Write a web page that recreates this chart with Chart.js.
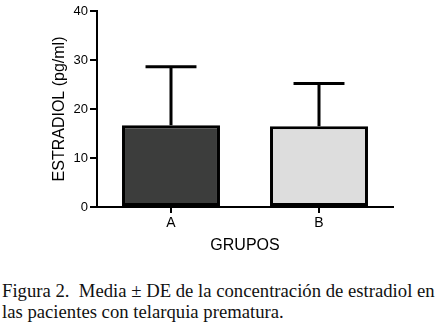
<!DOCTYPE html>
<html>
<head>
<meta charset="utf-8">
<script src="https://cdn.jsdelivr.net/npm/chart.js@4.4.1/dist/chart.umd.min.js"></script>
<style>
  body { margin: 0; background: #fff; }
  #wrap { position: relative; width: 439px; height: 265px; }
  #caption {
    position: absolute; left: 2px; top: 281px; width: 437px;
    font-family: 'Times New Roman', 'Liberation Serif', serif;
    font-size: 18.7px; line-height: 20.5px; color: #111;
    white-space: nowrap;
  }
</style>
</head>
<body>
<div id="wrap"><canvas id="chart"></canvas></div>
<div id="caption">Figura 2.&nbsp; Media ± DE de la concentración de estradiol en<br>las pacientes con telarquia prematura.</div>
<script>
const groups = ['A', 'B'];
const means = [16.7, 16.5];
const sds = [11.9, 8.7];
const barColors = ['#3c3d3c', '#dddddd'];
const yMin = 0;
const yMax = 40;
const yStep = 10;

const font = "Arial, 'Liberation Sans', sans-serif";

// draw the upper half of the error bar (mean + SD)
const errorBars = {
    id: 'errorBars',
    afterDatasetsDraw(chart) {
        const ctx = chart.ctx;
        const yScale = chart.scales.y;
        const meta = chart.getDatasetMeta(0);
        ctx.save();
        ctx.strokeStyle = '#000';
        ctx.lineWidth = 3;
        meta.data.forEach((bar, i) => {
            const top = yScale.getPixelForValue(means[i] + sds[i]);
            const half = bar.width * 0.26;
            ctx.beginPath();
            ctx.moveTo(bar.x, bar.y);
            ctx.lineTo(bar.x, top);
            ctx.moveTo(bar.x - half, top);
            ctx.lineTo(bar.x + half, top);
            ctx.stroke();
        });
        ctx.restore();
    }
};

new Chart(document.getElementById('chart'), {
    type: 'bar',
    data: {
        labels: groups,
        datasets: [{
            data: means,
            backgroundColor: barColors,
            borderColor: '#000',
            borderWidth: 3,
            borderSkipped: false,
            categoryPercentage: 1,
            barPercentage: 0.662
        }]
    },
    options: {
        responsive: true,
        maintainAspectRatio: false,
        animation: false,
        layout: { padding: { left: 0, right: 46, top: 11, bottom: 0 } },
        plugins: { legend: { display: false }, tooltip: { enabled: false } },
        scales: {
            x: {
                grid: { offset: false, drawOnChartArea: false, color: '#000', lineWidth: 2, tickLength: 6 },
                border: { color: '#000', width: 2 },
                ticks: { color: '#000', font: { family: font, size: 14 }, padding: 2 },
                title: { display: true, text: 'GRUPOS', color: '#000', font: { family: font, size: 16 }, padding: { top: 0, bottom: 10 } },
                afterFit: (s) => { s.height = 58; }
            },
            y: {
                min: yMin,
                max: yMax,
                grid: { drawOnChartArea: false, color: '#000', lineWidth: 2, tickLength: 7 },
                border: { color: '#000', width: 2 },
                ticks: { stepSize: yStep, color: '#000', font: { family: font, size: 13 }, padding: 2 },
                title: { display: true, text: 'ESTRADIOL (pg/ml)', color: '#000', font: { family: font, size: 16 }, padding: { top: 50, bottom: 0 } },
                afterFit: (s) => { s.width = 97; }
            }
        }
    },
    plugins: [errorBars]
});
</script>
</body>
</html>
